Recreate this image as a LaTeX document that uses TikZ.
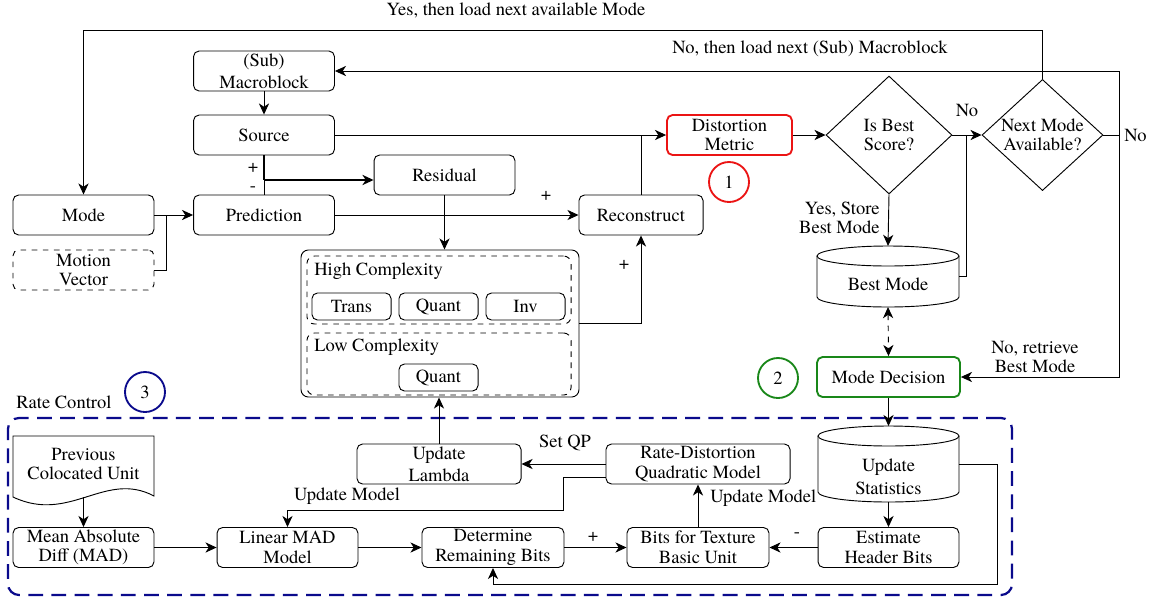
\documentclass[tikz,border=0pt]{standalone}
\usepackage{fontspec}
\IfFontExistsTF{TeX Gyre Termes}{\setmainfont{TeX Gyre Termes}}{\setmainfont{Liberation Serif}}
\usetikzlibrary{arrows.meta,shapes.geometric}
\definecolor{rcred}{RGB}{235,20,20}
\definecolor{rcgreen}{RGB}{25,135,25}
\definecolor{rcblue}{RGB}{10,10,140}
\newcommand\mylbl{\fontsize{10}{10.5}\selectfont}
\begin{document}
\begin{tikzpicture}[x=0.54pt,y=-0.54pt, font=\mylbl, line width=0.5pt,
  arr/.style={-{Stealth[length=6pt,width=5.5pt,inset=1.8pt]}},
  darr/.style={{Stealth[length=6pt,width=5.5pt,inset=1.8pt]}-{Stealth[length=6pt,width=5.5pt,inset=1.8pt]}},
  box/.style={draw, rounded corners=3pt, minimum width=76.1pt, minimum height=21.6pt, inner sep=0.5pt, align=center},
  sbox/.style={draw, rounded corners=3pt, minimum width=42.7pt, minimum height=14.6pt, inner sep=0pt},
  ghost/.style={inner sep=0pt, outer sep=0pt},
  dia/.style={draw, diamond, inner sep=0pt, align=center},
  num/.style={draw, circle, minimum size=21.6pt, inner sep=0pt, line width=1pt},
  lab/.style={inner sep=1pt, align=center}]
\useasboundingbox (0,0) rectangle (1151,599);

% ---------- top part ----------
\node[box] (mb) at (264,71) {(Sub)\\[1.5pt]Macroblock};
\node[box] (src) at (264,135) {Source};
\node[box] (res) at (444.5,175) {Residual};
\node[box] (mode) at (83.5,215) {Mode};
\node[box] (pred) at (264,215) {Prediction};
\node[box, dashed] (mv) at (83.5,270) {Motion\\Vector};
\node[box, minimum width=67pt] (rec) at (641,215) {Reconstruct};
\node[box, minimum width=67.5pt, draw=rcred, line width=1pt] (dm) at (729.5,135) {Distortion\\Metric};
\node[num, draw=rcred] (c1) at (729,182) {1};
\node[dia, minimum width=68pt, minimum height=63.7pt] (ib) at (889,135) {Is Best\\Score?};
\node[dia, aspect=1.1, minimum width=65.3pt, minimum height=60pt] (nm) at (1042.5,135) {Next Mode\\Available?};

% Best Mode cylinder
\node[ghost, minimum width=76.7pt, minimum height=33pt] (bm) at (888,276.5) {};
\draw (817,256) -- (817,297) arc[start angle=180, end angle=360, x radius=38.34pt, y radius=5.4pt] -- (959,256);
\draw (888,256) ellipse [x radius=38.34pt, y radius=5.4pt];
\node[lab] (bmt) at (888,284) {Best Mode};

\node[box, minimum width=77.2pt, draw=rcgreen, line width=1pt] (md) at (888.5,377) {Mode Decision};
\node[num, draw=rcgreen] (c2) at (778,378) {2};

% complexity block
\node[draw, rounded corners=4pt, minimum width=150.1pt, minimum height=79.4pt] (cx) at (440,323.5) {};
\node[draw, dashed, rounded corners=4pt, minimum width=142.6pt, minimum height=36.7pt] (hc) at (439,290) {};
\node[draw, dashed, rounded corners=4pt, minimum width=142.6pt, minimum height=33.5pt] (lc) at (439,364) {};
\node[lab, anchor=west] (hct) at (312,271) {High Complexity};
\node[lab, anchor=west] (lct) at (312,347) {Low Complexity};
\node[sbox] (tr) at (351.5,306.5) {Trans};
\node[sbox] (q1) at (438.5,306.5) {Quant};
\node[sbox] (inv) at (525.5,306.5) {Inv};
\node[sbox] (q2) at (438.5,377.5) {Quant};

% ---------- rate control ----------
\node[draw=rcblue, line width=1.2pt, dash pattern=on 8pt off 4.5pt, rounded corners=6pt, minimum width=542.2pt, minimum height=95.6pt, inner sep=0pt] (rc) at (510,506.5) {};
\node[lab, anchor=west] (rct) at (14,402) {Rate Control};
\node[num, draw=rcblue] (c3) at (145,392) {3};

\node[ghost, minimum width=76.1pt, minimum height=33pt] (pcu) at (83.5,466.5) {};
\draw (13,436) -- (154,436) -- (154,496) .. controls (105,470) and (70,524) .. (13,497) -- cycle;
\node[lab] (pcut) at (83.5,464) {Previous\\Colocated Unit};

\node[box] (mad) at (83.5,547.5) {Mean Absolute\\Diff (MAD)};
\node[box] (lm) at (287.5,547.5) {Linear MAD\\Model};
\node[box, minimum width=88.6pt] (ul) at (439,464) {Update\\[1.5pt]Lambda};
\node[box, minimum width=99.4pt] (rd) at (698,464) {Rate-Distortion\\Quadratic Model};

% Update Statistics cylinder
\node[ghost, minimum width=76.1pt, minimum height=41pt] (us) at (888.5,464) {};
\draw (818,436) -- (818,492) arc[start angle=180, end angle=360, x radius=38.07pt, y radius=5.4pt] -- (959,436);
\draw (888.5,436) ellipse [x radius=38.07pt, y radius=5.4pt];
\node[lab] (ust) at (888.5,477) {Update\\[2pt]Statistics};

\node[box, minimum width=76.7pt] (drb) at (493,547.5) {Determine\\Remaining Bits};
\node[box, minimum width=76.7pt] (bft) at (698,547.5) {Bits for Texture\\Basic Unit};
\node[box] (ehb) at (888.5,547.5) {Estimate\\Header Bits};

% ---------- connectors ----------
\coordinate (sj) at (264,180);
\coordinate (nj) at (1119,135);
\draw[arr] (mb) -- (src);
\draw[line width=1pt] (src.south) -- (sj);
\draw[arr, line width=1pt] (sj) -- (res.west |- sj);
\draw (pred.north) -- (sj);
\node[inner sep=0pt] at (253,168) {+};
\node[inner sep=0pt] at (253,189) {-};
\draw[arr] (mode.east) -- (pred.west);
\draw (mv.east) -| (166,215);
\draw[arr] (pred.east) -- (rec.west);
\node[lab] at (546,196) {+};
\draw[arr] (res.south) -- (res.south |- cx.north);
\draw[arr] (cx.east) -| (rec.south);
\node[lab] at (624,265) {+};
\draw[arr] (src.east) -- (dm.west);
\draw (rec.north) -- (rec.north |- src.east);
\draw[arr] (dm.east) -- (ib.west);
\draw[arr] (ib.east) -- (nm.west);
\node[lab] at (967,110) {No};
\draw (bm.east) -| (966,135);
\draw[arr] (ib.south) -- (bm.north);
\node[lab, anchor=east, align=right] at (882,218) {Yes, Store\\Best Mode};
\draw[arr] (nm.north) -- ++(0,-49) -| (mode.north);
\node[lab] at (516,10) {Yes, then load next available Mode};
\draw (nm.east) -- (nj);
\draw[arr] (nj) |- (mb.east);
\node[lab] at (810,49) {No, then load next (Sub) Macroblock};
\node[lab, anchor=west] at (1122,135) {No};
\draw[arr] (nj) |- (md.east);
\node[lab] at (1035,357) {No, retrieve\\Best Mode};
\draw[darr, dashed] (bm.south) -- (md.north);
\draw[arr] (md.south) -- (us.north);
\draw[arr] (us.south) -- (ehb.north);
\draw[arr] (us.east) -| (997,584) -| (drb.south);
\draw[arr] (ehb.west) -- (bft.east);
\node[lab] at (797,535) {-};
\draw[arr] (bft.north) -- (rd.south);
\node[lab, anchor=west] at (708,498) {Update Model};
\draw[arr] (rd.west) -- (ul.east);
\node[lab] at (565,443) {Set QP};
\draw[arr] (rd.west |- 0,477) -| (563,510) -| (lm.north);
\node[lab] at (347,496) {Update Model};
\draw[arr] (ul.north) -- (ul.north |- cx.south);
\draw[arr] (pcu.south) -- (mad.north);
\draw[arr] (mad.east) -- (lm.west);
\draw[arr] (lm.east) -- (drb.west);
\draw[arr] (drb.east) -- (bft.west);
\node[lab] at (593,537) {+};
\end{tikzpicture}
\end{document}
